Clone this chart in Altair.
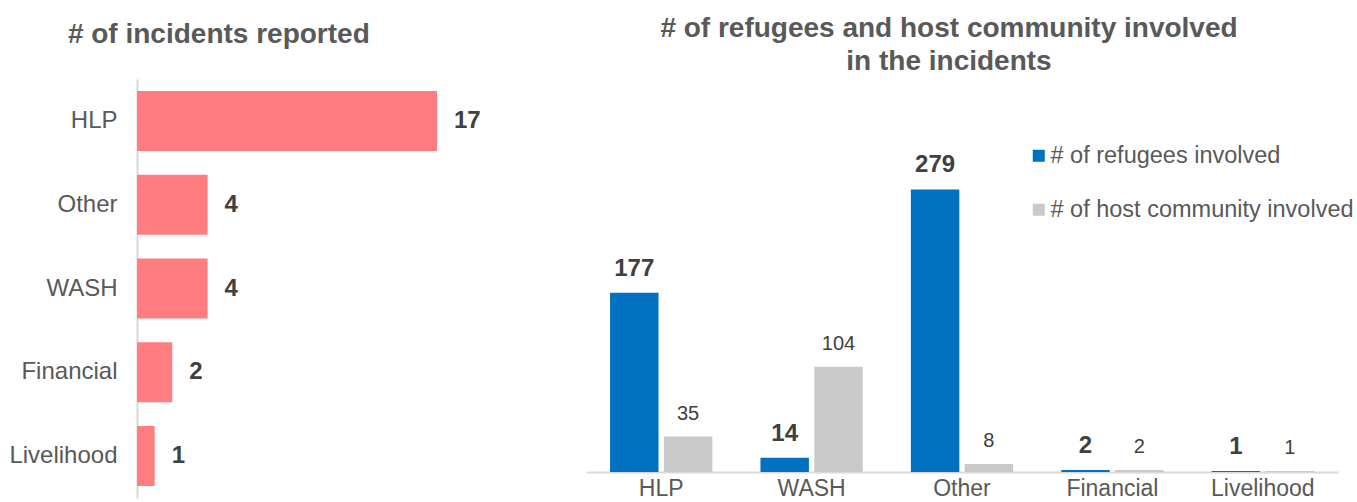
import altair as alt
import pandas as pd

FONT = "Liberation Sans, Arial, sans-serif"
GRAY_TXT = "#595959"
DARK_TXT = "#404040"

# Left chart data
left_categories = ["HLP", "Other", "WASH", "Financial", "Livelihood"]
left_incidents = [17, 4, 4, 2, 1]

# Right chart data
right_categories = ["HLP", "WASH", "Other", "Financial", "Livelihood"]
series_names = ["# of refugees involved", "# of host community involved"]
refugees = [177, 14, 279, 2, 1]
host = [35, 104, 8, 2, 1]

df_left = pd.DataFrame({"category": left_categories, "count": left_incidents})

rows = []
for c, r, h in zip(right_categories, refugees, host):
    rows.append({"category": c, "series": series_names[0], "value": r})
    rows.append({"category": c, "series": series_names[1], "value": h})
df_right = pd.DataFrame(rows)

# ---------- Left chart ----------
lbase = alt.Chart(df_left).encode(
    y=alt.Y("category:N", sort=left_categories,
            scale=alt.Scale(paddingInner=0.284, paddingOuter=0.142),
            axis=alt.Axis(title=None, labelFontSize=24, labelColor=GRAY_TXT, labelFont=FONT,
                          ticks=False, tickSize=0, labelPadding=20,
                          domainColor="#d9d9d9", domainWidth=2, grid=False)),
    x=alt.X("count:Q", scale=alt.Scale(domain=[0, 17], nice=False), axis=None),
)
lbars = lbase.mark_bar(color="#FF7C80")
ltext = lbase.mark_text(align="left", baseline="middle", dx=17, fontSize=24, fontWeight="bold",
                        color=DARK_TXT, font=FONT).encode(text="count:Q")
left = (lbars + ltext).properties(
    width=300, height=419,
    title=alt.TitleParams(text="# of incidents reported", fontSize=28, font=FONT, fontWeight="bold",
                          color=GRAY_TXT, anchor="start", dx=59, offset=30),
)

# ---------- Right chart ----------
rbase = alt.Chart(df_right).encode(
    x=alt.X("category:N", sort=right_categories,
            scale=alt.Scale(paddingInner=0.32, paddingOuter=0.16),
            axis=alt.Axis(title=None, labelAngle=0, labelFontSize=23, labelColor=GRAY_TXT, labelFont=FONT,
                          ticks=False, tickSize=0, labelPadding=5,
                          domainColor="#d9d9d9", domainWidth=2, grid=False)),
    xOffset=alt.XOffset("series:N", sort=series_names,
                        scale=alt.Scale(paddingInner=0.1, paddingOuter=0)),
    y=alt.Y("value:Q", scale=alt.Scale(domain=[0, 388], nice=False), axis=None),
)
rbars = rbase.mark_bar().encode(
    color=alt.Color("series:N", sort=series_names,
                    scale=alt.Scale(domain=series_names, range=["#0070C0", "#C9C9C9"]),
                    legend=alt.Legend(title=None, orient="none", legendX=890, legendY=65,
                                      symbolType="square", symbolSize=144, symbolStrokeWidth=0,
                                      labelFontSize=23.5, labelColor=GRAY_TXT, labelFont=FONT,
                                      labelLimit=0, rowPadding=29, labelOffset=0, padding=0))
)
rtext_ref = rbase.transform_filter(alt.datum.series == series_names[0]).mark_text(
    baseline="alphabetic", dy=-17, fontSize=24, fontWeight="bold", color=DARK_TXT, font=FONT
).encode(text="value:Q")
rtext_host = rbase.transform_filter(alt.datum.series == series_names[1]).mark_text(
    baseline="alphabetic", dy=-17, fontSize=20, color=DARK_TXT, font=FONT
).encode(text="value:Q")

right = (rbars + rtext_ref + rtext_host).properties(
    width=752, height=393,
    title=alt.TitleParams(text=["# of refugees and host community involved", "in the incidents"],
                          fontSize=28, font=FONT, fontWeight="bold", color=GRAY_TXT,
                          anchor="middle", dx=-13, offset=3, lineHeight=33),
)

chart = alt.hconcat(left, right, spacing=149, bounds="flush").properties(
    padding={"left": 8, "top": 15, "right": 0, "bottom": 0},
    background="white",
).configure_view(strokeWidth=0, strokeOpacity=0)

chart.save("out.html", embed_options={"renderer": "svg", "actions": False})
